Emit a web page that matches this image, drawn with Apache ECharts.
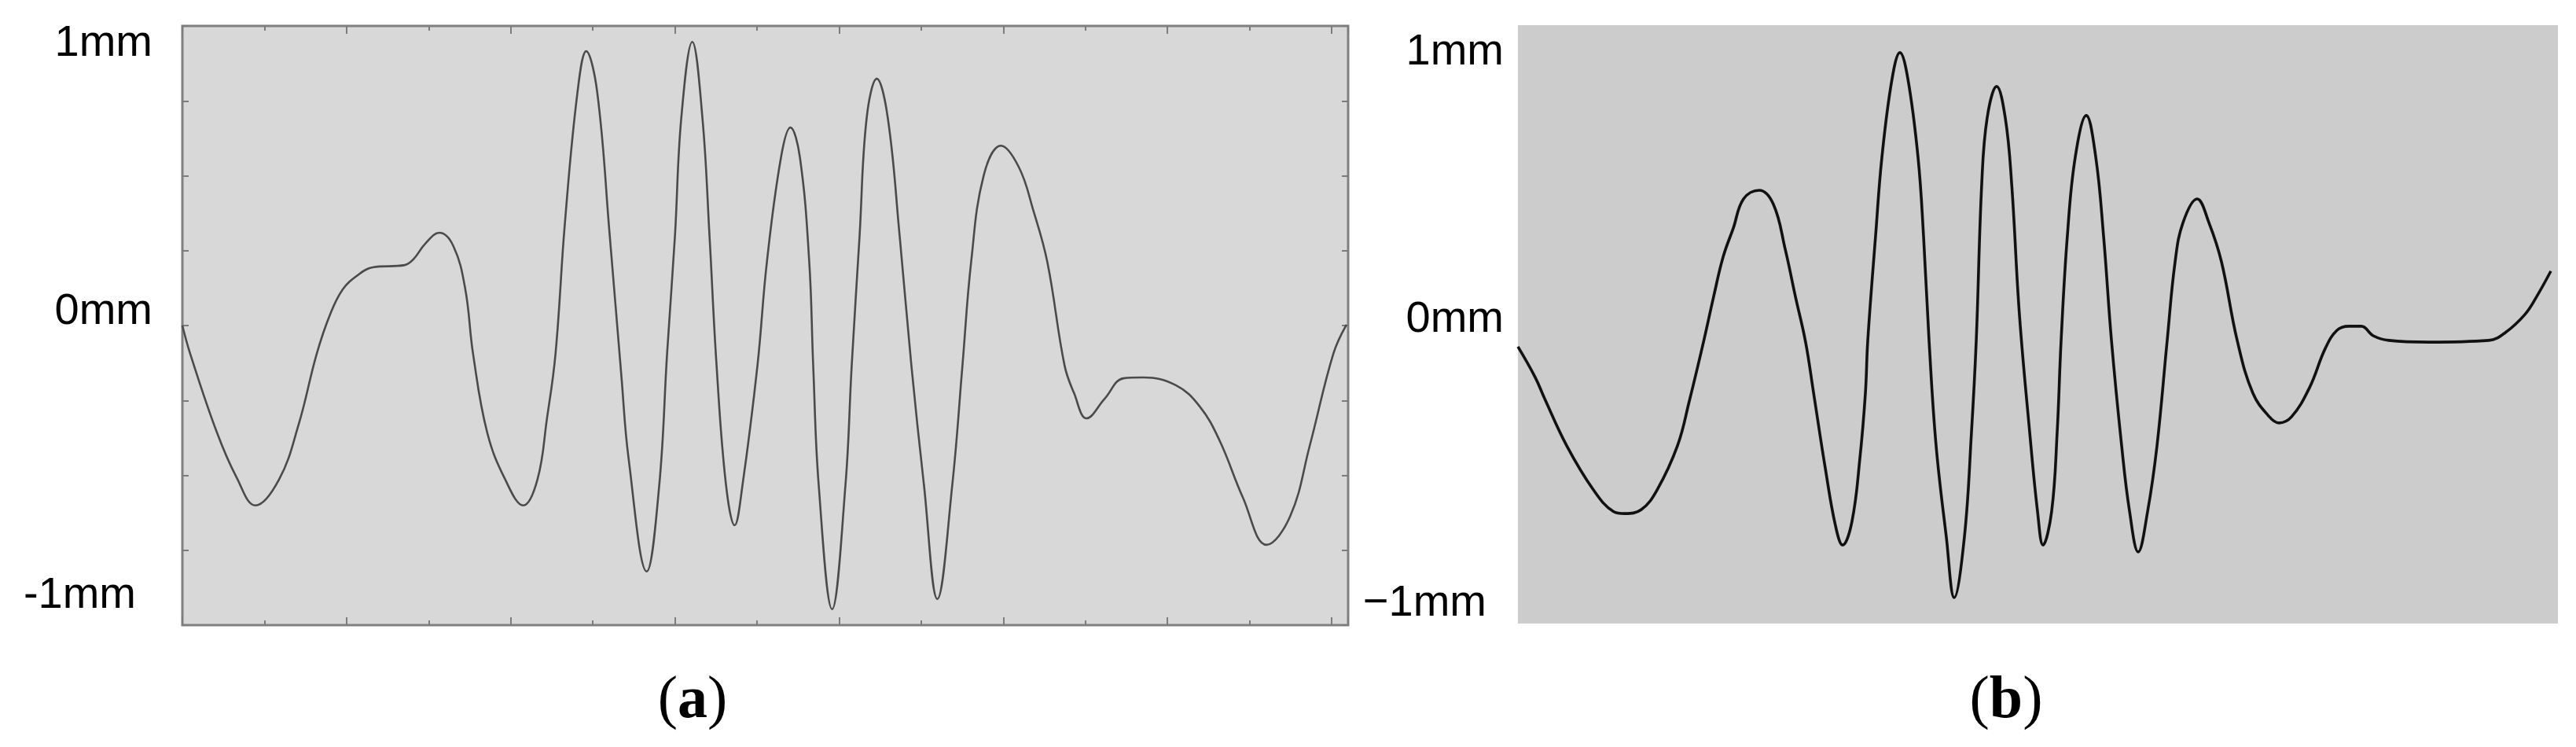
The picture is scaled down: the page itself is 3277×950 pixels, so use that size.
<!DOCTYPE html>
<html>
<head>
<meta charset="utf-8">
<script src="https://cdn.jsdelivr.net/npm/echarts@6/dist/echarts.min.js"></script>
<style>
html,body{margin:0;padding:0;background:#fff;}
#c{width:3277px;height:950px;}
</style>
</head>
<body>
<div id="c"></div>
<script>
// Panel (a): x in tick units, y in mm
const aX = [0,0.096,0.421,0.660,0.890,1.177,1.416,1.636,1.799,1.952,2.134,2.316,2.708,2.813,2.957,3.129,3.301,3.445,3.541,3.713,3.933,4.153,4.325,4.440,4.545,4.660,4.813,4.919,5.053,5.206,5.349,5.435,5.656,5.809,5.904,6.0,6.077,6.211,6.335,6.421,6.507,6.622,6.727,6.823,7.005,7.120,7.292,7.407,7.522,7.636,7.684,7.751,7.914,8.077,8.153,8.249,8.335,8.459,8.593,8.737,8.880,9.033,9.196,9.378,9.502,9.608,9.761,9.971,10.191,10.364,10.536,10.746,10.861,11.014,11.234,11.464,11.703,12.105,12.392,12.632,12.919,13.206,13.493,13.732,14.019,14.18];
const aY = [0,-0.10,-0.377,-0.535,-0.634,-0.543,-0.349,-0.100,0.039,0.127,0.177,0.205,0.213,0.233,0.288,0.327,0.280,0.130,-0.100,-0.377,-0.543,-0.634,-0.543,-0.330,-0.100,0.363,0.823,0.967,0.823,0.316,-0.183,-0.468,-0.867,-0.562,-0.100,0.316,0.731,1.000,0.731,0.316,-0.141,-0.562,-0.704,-0.562,-0.141,0.224,0.593,0.698,0.593,0.224,-0.141,-0.562,-1.000,-0.562,-0.141,0.316,0.731,0.870,0.731,0.316,-0.141,-0.562,-0.964,-0.562,-0.141,0.224,0.529,0.634,0.557,0.407,0.224,-0.141,-0.238,-0.327,-0.258,-0.186,-0.183,-0.211,-0.285,-0.404,-0.607,-0.773,-0.673,-0.424,-0.100,0.003];

// Panel (b): x in percent of trace length, y in mm
const bX = [0,1.66,2.57,4.69,7.26,9.15,10.28,11.87,13.38,15.34,16.48,17.84,18.82,19.73,20.71,21.69,23.20,24.57,25.70,26.68,27.66,28.42,29.55,30.54,31.22,32.12,32.88,33.41,33.64,34.39,35.00,35.98,36.73,37.49,38.47,39.00,39.53,40.21,41.19,41.95,42.93,43.61,44.07,44.60,45.12,46.03,46.86,47.47,48.22,49.21,49.96,50.49,51.32,51.85,52.23,52.83,53.59,54.65,55.56,56.31,57.07,58.05,58.81,59.64,60.55,61.45,62.43,63.19,63.95,65.31,66.44,67.65,69.16,70.67,72.26,73.17,74.38,76.11,77.63,78.76,79.89,81.10,82.24,83.75,87.60,93.35,94.94,96.83,97.96,99.32];
const bY = [-0.019,-0.125,-0.199,-0.362,-0.515,-0.589,-0.597,-0.583,-0.515,-0.362,-0.207,-0.003,0.155,0.292,0.392,0.493,0.523,0.474,0.319,0.155,-0.003,-0.177,-0.439,-0.640,-0.706,-0.624,-0.406,-0.180,0.003,0.365,0.638,0.910,1.000,0.910,0.638,0.365,0.003,-0.362,-0.678,-0.888,-0.678,-0.316,0.003,0.548,0.774,0.883,0.774,0.548,0.093,-0.316,-0.589,-0.706,-0.589,-0.316,0.003,0.365,0.638,0.782,0.638,0.365,0.003,-0.362,-0.589,-0.730,-0.589,-0.362,0.003,0.275,0.411,0.493,0.411,0.275,0.003,-0.180,-0.262,-0.283,-0.262,-0.161,-0.025,0.038,0.052,0.052,0.019,0.003,-0.003,0.003,0.030,0.093,0.155,0.243];

// Axis label positions (mm) and texts
const aLabelVals = [0.994, 0.047, -0.953];
const aLabelTexts = ['1mm', '0mm', '-1mm'];
const bLabelVals = [1.0, 0.074, -0.91];
const bLabelTexts = ['1mm', '0mm', '\u22121mm'];
const captions = ['a', 'b'];

const aData = aX.map((x, i) => [x, aY[i]]);
const bData = bX.map((x, i) => [x, bY[i]]);

const chart = echarts.init(document.getElementById('c'), null, {renderer: 'canvas'});

const tickCol = '#7c7c7c';
const labelFont = {fontFamily: 'Liberation Sans, Arial, sans-serif', fontSize: 56, color: '#000'};

function labelFormatter(vals, texts) {
  return function (v) {
    let best = 0, bd = 1e9;
    vals.forEach((u, i) => { const d = Math.abs(u - v); if (d < bd) { bd = d; best = i; } });
    return best === 2 ? '{n|' + texts[best] + '}' : texts[best];
  };
}

function tickX(gridIndex, position, interval, len) {
  return {
    type: 'value', gridIndex, position, min: 0, max: 14.2, interval,
    axisLine: {show: false, onZero: false}, axisLabel: {show: false}, splitLine: {show: false},
    axisTick: {show: true, inside: true, length: len, lineStyle: {color: tickCol, width: 2}}
  };
}

const option = {
  animation: false,
  backgroundColor: '#ffffff',
  grid: [
    {left: 232, right: 1562, top: 33, bottom: 155, show: true, backgroundColor: '#d8d8d8', borderColor: '#808080', borderWidth: 3},
    {left: 232, right: 1562, top: 33, bottom: 155, show: false},
    {left: 1931, right: 23, top: 32, bottom: 157, show: true, backgroundColor: '#cccccc', borderWidth: 0}
  ],
  xAxis: [
    tickX(0, 'bottom', 2, 10),
    tickX(0, 'top', 2, 10),
    tickX(1, 'bottom', 1, 6),
    tickX(1, 'top', 1, 6),
    {type: 'value', gridIndex: 2, min: 0, max: 100, show: false, axisLine: {onZero: false}}
  ],
  yAxis: [
    {
      type: 'value', gridIndex: 0, position: 'left', min: -1.056, max: 1.056, interval: 0.264,
      axisLine: {show: false, onZero: false}, splitLine: {show: false},
      axisTick: {show: true, inside: true, length: 8, lineStyle: {color: tickCol, width: 2}},
      axisLabel: Object.assign({
        show: true, margin: 38, customValues: aLabelVals,
        formatter: labelFormatter(aLabelVals, aLabelTexts),
        rich: {n: Object.assign({padding: [0, 21, 0, 0]}, labelFont)}
      }, labelFont)
    },
    {
      type: 'value', gridIndex: 0, position: 'right', min: -1.056, max: 1.056, interval: 0.264,
      axisLine: {show: false, onZero: false}, splitLine: {show: false}, axisLabel: {show: false},
      axisTick: {show: true, inside: true, length: 8, lineStyle: {color: tickCol, width: 2}}
    },
    {type: 'value', gridIndex: 1, min: -1.056, max: 1.056, show: false, axisLine: {onZero: false}},
    {
      type: 'value', gridIndex: 2, min: -0.978, max: 1.095,
      axisLine: {show: false, onZero: false}, splitLine: {show: false}, axisTick: {show: false},
      axisLabel: Object.assign({
        show: true, margin: 18, customValues: bLabelVals,
        formatter: labelFormatter(bLabelVals, bLabelTexts),
        rich: {n: Object.assign({padding: [0, 22, 0, 0]}, labelFont)}
      }, labelFont)
    }
  ],
  series: [
    {
      type: 'line', xAxisIndex: 0, yAxisIndex: 0, data: aData, smooth: 0.4,
      showSymbol: false, lineStyle: {color: '#4a4a4a', width: 2.6}, z: 5
    },
    {
      type: 'line', xAxisIndex: 4, yAxisIndex: 3, data: bData, smooth: 0.4,
      showSymbol: false, lineStyle: {color: '#111111', width: 3.6}, z: 5
    }
  ],
  graphic: [
    {type: 'text', x: 881, y: 892, style: {text: '({b|' + captions[0] + '})', align: 'center', verticalAlign: 'middle',
      fontFamily: 'Liberation Serif', fontSize: 76, fill: '#000',
      rich: {b: {fontFamily: 'Liberation Serif', fontSize: 76, fontWeight: 'bold', fill: '#000'}}}},
    {type: 'text', x: 2552, y: 892, style: {text: '({b|' + captions[1] + '})', align: 'center', verticalAlign: 'middle',
      fontFamily: 'Liberation Serif', fontSize: 76, fill: '#000',
      rich: {b: {fontFamily: 'Liberation Serif', fontSize: 76, fontWeight: 'bold', fill: '#000'}}}}
  ]
};
chart.setOption(option);
</script>
</body>
</html>
